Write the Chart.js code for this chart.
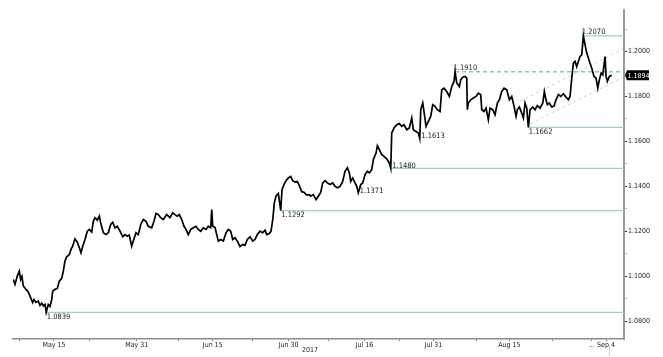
<!DOCTYPE html>
<html><head><meta charset="utf-8">
<script src="https://cdn.jsdelivr.net/npm/chart.js@4.4.0/dist/chart.umd.min.js"></script>
<style>html,body{margin:0;padding:0;background:#fff}#wrap{width:663px;height:357px;position:relative}</style>
</head><body><div id="wrap"><canvas id="c" width="663" height="357"></canvas></div>
<script>
// trading-day index (0 = Mon May 1 2017)
const days = [4.10,4.35,4.68,4.97,5.17,5.36,5.55,5.94,6.28,6.62,6.91,7.10,7.39,7.72,7.97,8.22,8.45,8.70,8.87,9.17,9.42,9.67,9.81,10.15,10.48,10.77,11.12,11.35,11.59,11.84,12.22,12.46,12.71,13.04,13.38,13.67,13.91,14.16,14.49,14.83,15.12,15.46,15.70,15.94,16.28,16.57,16.77,17.15,17.54,17.87,18.22,18.51,18.84,19.17,19.57,19.96,20.29,20.62,20.91,21.26,21.49,21.88,22.22,22.57,22.94,23.33,23.67,24.16,24.49,24.78,25.12,25.46,25.84,26.33,26.81,27.20,27.54,27.87,28.16,28.51,28.84,29.13,29.46,29.81,30.19,30.58,30.91,31.26,31.64,32.03,32.36,32.71,32.86,33.00,33.33,33.58,33.81,34.16,34.54,34.93,35.26,35.61,35.90,36.23,36.57,36.96,37.35,37.68,38.01,38.41,38.80,39.13,39.46,39.86,40.25,40.58,40.83,41.20,41.45,41.70,41.93,42.17,42.51,42.86,43.04,43.33,43.62,43.96,44.30,44.59,44.93,45.26,45.55,45.90,46.23,46.62,47.00,47.20,47.58,47.97,48.30,48.65,48.94,49.28,49.61,50.00,50.39,50.72,51.06,51.45,51.84,52.17,52.51,52.80,53.00,53.29,53.62,53.87,54.10,54.45,54.74,55.07,55.41,55.70,56.04,56.28,56.67,56.86,57.15,57.49,57.83,58.22,58.59,58.80,58.94,59.28,59.67,60.04,60.39,60.73,61.12,61.49,61.84,62.07,62.46,62.80,63.00,63.15,63.44,63.62,63.91,64.25,64.59,64.88,65.22,65.55,65.94,66.19,66.52,66.91,67.29,67.64,67.97,68.12,68.36,68.74,68.94,69.23,69.57,69.81,69.90,70.04,70.39,70.77,71.16,71.49,71.84,71.99,72.32,72.61,72.94,73.19,73.58,73.91,74.25,74.54,74.88,75.22,75.61,75.99,76.33,76.67,76.96,77.15,77.44,77.78,78.02,78.26,78.51,78.74,78.99,79.38,79.71,80.04,80.43,80.83,81.06,81.30,81.49,81.78,82.13,82.46,82.75,83.09,83.44,83.81,84.20,84.54,84.78,85.03,85.26,85.51,85.75,85.99,86.23,86.48,86.71,86.96,87.20,87.44,87.68,87.93,88.26,88.55,88.80,89.03,89.28,89.52,89.86,90.00,90.19,90.48,90.83];
const eurusd = [1.0985,1.0963,1.1000,1.1022,1.0985,1.0999,1.0956,1.0941,1.0929,1.0904,1.0882,1.0896,1.0883,1.0889,1.0870,1.0879,1.0867,1.0874,1.0839,1.0874,1.0865,1.0896,1.0933,1.0941,1.0945,1.0978,1.0990,1.1022,1.1067,1.1086,1.1096,1.1119,1.1133,1.1166,1.1151,1.1126,1.1104,1.1133,1.1163,1.1200,1.1208,1.1196,1.1244,1.1260,1.1249,1.1267,1.1237,1.1193,1.1185,1.1193,1.1230,1.1240,1.1215,1.1222,1.1200,1.1175,1.1185,1.1178,1.1183,1.1133,1.1156,1.1193,1.1185,1.1230,1.1252,1.1244,1.1222,1.1215,1.1244,1.1279,1.1274,1.1260,1.1252,1.1274,1.1260,1.1282,1.1274,1.1267,1.1274,1.1252,1.1222,1.1208,1.1185,1.1208,1.1215,1.1222,1.1208,1.1200,1.1215,1.1208,1.1222,1.1215,1.1296,1.1222,1.1217,1.1185,1.1156,1.1163,1.1156,1.1193,1.1208,1.1200,1.1163,1.1171,1.1156,1.1131,1.1141,1.1137,1.1163,1.1175,1.1156,1.1163,1.1185,1.1200,1.1193,1.1205,1.1185,1.1190,1.1200,1.1252,1.1326,1.1356,1.1368,1.1292,1.1385,1.1408,1.1425,1.1437,1.1444,1.1425,1.1419,1.1421,1.1403,1.1376,1.1373,1.1361,1.1363,1.1356,1.1363,1.1341,1.1356,1.1373,1.1415,1.1425,1.1415,1.1408,1.1415,1.1400,1.1393,1.1400,1.1422,1.1467,1.1482,1.1460,1.1422,1.1437,1.1415,1.1400,1.1371,1.1408,1.1415,1.1452,1.1467,1.1460,1.1474,1.1519,1.1548,1.1581,1.1563,1.1541,1.1533,1.1522,1.1504,1.1480,1.1637,1.1660,1.1674,1.1679,1.1667,1.1674,1.1652,1.1660,1.1704,1.1652,1.1644,1.1637,1.1613,1.1741,1.1771,1.1733,1.1667,1.1689,1.1711,1.1763,1.1756,1.1741,1.1733,1.1830,1.1837,1.1822,1.1800,1.1844,1.1867,1.1910,1.1860,1.1844,1.1874,1.1886,1.1889,1.1882,1.1741,1.1771,1.1785,1.1793,1.1800,1.1815,1.1808,1.1741,1.1733,1.1748,1.1696,1.1748,1.1741,1.1719,1.1771,1.1785,1.1822,1.1837,1.1830,1.1785,1.1800,1.1756,1.1711,1.1741,1.1753,1.1726,1.1704,1.1771,1.1748,1.1662,1.1741,1.1753,1.1741,1.1759,1.1748,1.1771,1.1822,1.1785,1.1763,1.1771,1.1753,1.1757,1.1785,1.1808,1.1800,1.1812,1.1797,1.1785,1.1800,1.1882,1.1948,1.1956,1.1933,1.1956,1.1978,1.1985,1.2070,1.2030,1.1993,1.1971,1.1948,1.1926,1.1889,1.1882,1.1837,1.1874,1.1904,1.1896,1.1978,1.1889,1.1867,1.1889,1.1894];

const xTickLabels = ['May 15','May 31','Jun 15','Jun 30','Jul 16','Jul 31','Aug 15','...','Sep 4'];
const xTickDays   = [10, 22, 33, 44, 55, 65, 76, 87.9, 90];
const xMinorDays  = [5, 15.2, 28, 38.8, 49.8, 60, 71.2, 82.2];
const yTickValues = [1.08,1.09,1.10,1.11,1.12,1.13,1.14,1.15,1.16,1.17,1.18,1.19,1.20,1.21];
const yearLabel = '2017';
const yearDay = 47.1;

const levelValues = [1.0839, 1.1292, 1.1480, 1.1662, 1.1910, 1.2070];
const swingValues = [1.0839, 1.1292, 1.1371, 1.1480, 1.1613, 1.1662, 1.1910, 1.2070];
const channelUpperDays = [77.54, 92.46], channelUpperValues = [1.1778, 1.2012];
const channelLowerDays = [78.99, 92.46], channelLowerValues = [1.1679, 1.1885];
const lastPrice = eurusd[eurusd.length - 1];

const X_MIN = 4.06, X_MAX = 92.6, Y_MIN = 1.072, Y_MAX = 1.2185;
const FONT = '"DejaVu Sans Condensed","Liberation Sans","DejaVu Sans",sans-serif';
const swingPlace = ['below','below','beside','beside','beside','below','above','above'];

function dayOf(v){ for(let i=0;i<eurusd.length;i++){ if(Math.abs(eurusd[i]-v)<1e-7) return days[i]; } return null; }

const datasets = [];
datasets.push({data: days.map((d,i)=>({x:d,y:eurusd[i]})), borderColor:'#000', borderWidth:1.7, pointRadius:0, tension:0, order:0});
levelValues.forEach(v=>{
  const dashed = Math.abs(v-1.1910)<1e-7;
  datasets.push({data:[{x:dayOf(v),y:v},{x:X_MAX,y:v}], borderColor: dashed?'#7fcea9':'#95d8bd', borderWidth: dashed?1.4:1.3, borderDash: dashed?[4,3]:[], pointRadius:0, order:2});
});
[[channelUpperDays,channelUpperValues],[channelLowerDays,channelLowerValues]].forEach(([d,v])=>{
  datasets.push({data: d.map((dd,i)=>({x:dd,y:v[i]})), borderColor:'#cfcfcf', borderWidth:1, borderDash:[3,3], pointRadius:0, order:3});
});

const annot = {
  id:'annot',
  afterDatasetsDraw(chart){
    const {ctx, scales:{x,y}} = chart;
    ctx.save();
    ctx.font = '7.5px '+FONT;
    ctx.fillStyle = '#1a1a1a';
    ctx.textAlign = 'left';
    swingValues.forEach((v,i)=>{
      const px = x.getPixelForValue(dayOf(v)), py = y.getPixelForValue(v);
      const t = v.toFixed(4);
      ctx.textBaseline='middle';
      if(swingPlace[i]==='below'){ ctx.fillText(t, px+0.5, py+4.5); }
      else if(swingPlace[i]==='beside'){ ctx.fillText(t, px+1.5, py-2); }
      else { ctx.fillText(t, px-1.5, py-4); }
    });
    ctx.restore();
  },
  afterDraw(chart){
    const {ctx, scales:{x,y}, chartArea:a} = chart;
    ctx.save();
    const py = y.getPixelForValue(lastPrice);
    ctx.fillStyle = '#000';
    ctx.beginPath();
    ctx.moveTo(a.right+1, py);
    ctx.lineTo(a.right+3, py-5);
    ctx.lineTo(a.right+25, py-5);
    ctx.lineTo(a.right+25, py+5);
    ctx.lineTo(a.right+3, py+5);
    ctx.closePath();
    ctx.fill();
    ctx.fillStyle = '#fff';
    ctx.font = '7px '+FONT;
    ctx.textBaseline = 'middle';
    ctx.textAlign = 'left';
    ctx.fillText(lastPrice.toFixed(4), a.right+3.5, py+0.5);
    ctx.fillStyle = '#1a1a1a';
    ctx.textAlign = 'center';
    ctx.fillText(yearLabel, x.getPixelForValue(yearDay), 350);
    ctx.strokeStyle = '#d0d0d0';
    ctx.lineWidth = 1;
    const sx = Math.round(x.getPixelForValue(90.4))+0.5;
    ctx.beginPath(); ctx.moveTo(sx, a.bottom+7); ctx.lineTo(sx, 356); ctx.stroke();
    ctx.restore();
  }
};

const allXTicks = xTickDays.concat(xMinorDays).sort((a,b)=>a-b);
new Chart(document.getElementById('c'), {
  type:'line',
  data:{datasets},
  options:{
    responsive:false, animation:false, events:[],
    layout:{padding:{left:13, top:10, right:0, bottom:0}},
    plugins:{legend:{display:false}, tooltip:{enabled:false}},
    scales:{
      x:{type:'linear', min:X_MIN, max:X_MAX, position:'bottom',
        afterBuildTicks:s=>{ s.ticks = allXTicks.map(v=>({value:v})); },
        afterFit:s=>{ s.height = 18; },
        grid:{display:true, drawOnChartArea:false, drawTicks:true, tickLength:2, color:'#777', lineWidth:1},
        border:{display:true, color:'#8c8c8c', width:1.5},
        ticks:{autoSkip:false, maxRotation:0, minRotation:0, padding:0, color:'#1a1a1a', font:{family:FONT, size:7},
          callback:(v)=>{ const i = xTickDays.findIndex(d=>Math.abs(d-v)<1e-6); return i>=0 ? xTickLabels[i] : ''; }}
      },
      y:{type:'linear', min:Y_MIN, max:Y_MAX, position:'right',
        afterBuildTicks:s=>{ s.ticks = yTickValues.map(v=>({value:v})); },
        afterFit:s=>{ s.width = 39; },
        grid:{display:true, drawOnChartArea:false, drawTicks:true, tickLength:3,
          color:(c)=> (c.tick && Math.round(c.tick.value*100)%2===0) ? '#333' : '#bbb'},
        border:{display:true, color:'#9a9a9a', width:2},
        ticks:{padding:1, color:'#1a1a1a', font:{family:FONT, size:7},
          callback:(v)=> Math.round(v*100)%2===0 ? v.toFixed(4) : ''}
      }
    }
  },
  plugins:[annot]
});
</script></body></html>
